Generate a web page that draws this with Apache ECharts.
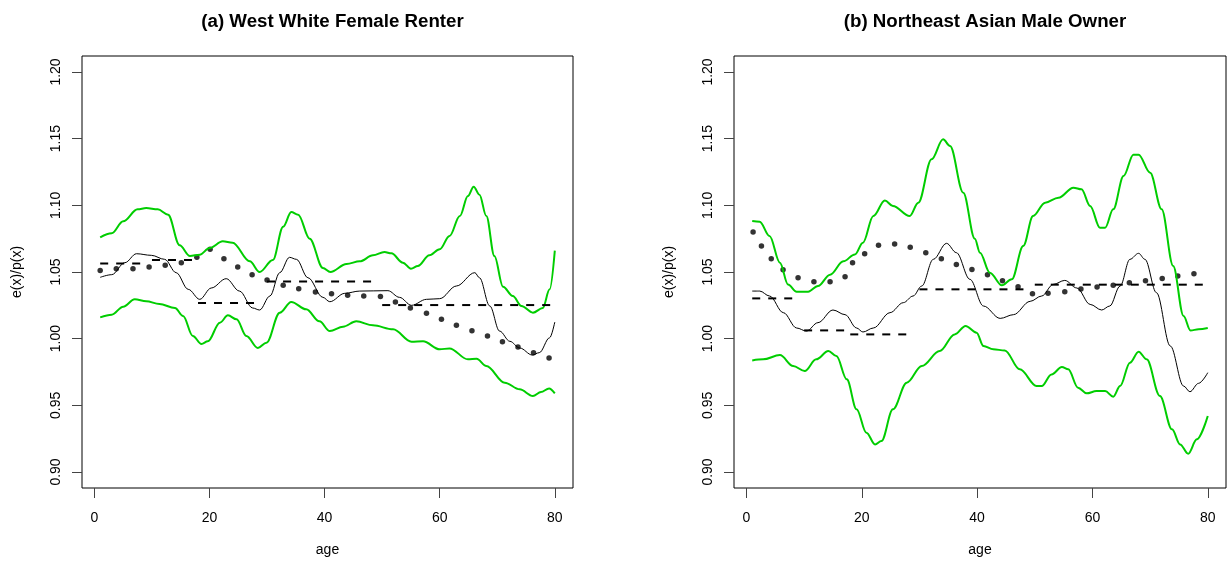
<!DOCTYPE html>
<html>
<head>
<meta charset="utf-8">
<title>e(x)/p(x) by age</title>
<script src="https://cdn.jsdelivr.net/npm/echarts@6/dist/echarts.min.js"></script>
<style>
  html, body { margin: 0; padding: 0; background: #fff; }
  #main { width: 1229px; height: 565px; }
</style>
</head>
<body>
<div id="main"></div>
<script>
// tick labels
const xTicks = [0, 20, 40, 60, 80]
const yTicks = [0.90, 0.95, 1.00, 1.05, 1.10, 1.15, 1.20]
const titles = ['(a) West White Female Renter', '(b) Northeast Asian Male Owner']

// age groups for the dashed step lines
const groupStart = [1, 10, 18, 30, 50]
const groupEnd = [9, 17, 29, 49, 80]

// ---- panel (a) ----
const upperA = [[1, 1.076], [3, 1.079], [5, 1.088], [7.5, 1.097], [9, 1.098], [11, 1.097], [12.8, 1.093], [14.8, 1.070],
  [16.6, 1.062], [18.3, 1.063], [20, 1.068], [22.3, 1.073], [24, 1.072], [27, 1.058], [28.7, 1.050], [31, 1.059],
  [32.8, 1.084], [34.2, 1.095], [35.4, 1.093], [37.4, 1.075], [39.7, 1.053], [41, 1.050], [43.8, 1.056], [46.1, 1.058],
  [48.4, 1.0625], [50.4, 1.065], [51.6, 1.064], [53.6, 1.057], [55, 1.0525], [56.2, 1.0545], [58.2, 1.0625], [60, 1.067],
  [61.7, 1.077], [63.5, 1.092], [64.9, 1.107], [65.9, 1.114], [66.9, 1.108], [68.1, 1.092], [69.5, 1.062], [71, 1.039],
  [72.7, 1.032], [74.2, 1.0245], [76.2, 1.0195], [77.9, 1.023], [79.1, 1.037], [80, 1.066]]
const lowerA = [[1, 1.016], [3, 1.018], [5, 1.024], [7, 1.0295], [9, 1.028], [11.3, 1.026], [14, 1.023], [15.4, 1.017],
  [17.1, 1.002], [18.6, 0.996], [19.7, 0.998], [21.8, 1.012], [23.2, 1.0175], [24.7, 1.0145], [26.4, 1.002], [28.4, 0.993],
  [29.9, 0.997], [32.2, 1.0195], [34.2, 1.0275], [36.8, 1.022], [39.1, 1.013], [40.9, 1.0057], [43.2, 1.009], [45.5, 1.013],
  [48.4, 1.010], [51.9, 1.007], [55.1, 0.9977], [57.1, 0.998], [60, 0.992], [61.7, 0.9927], [64.9, 0.9845], [66.4, 0.985],
  [68.1, 0.9795], [71.3, 0.967], [73.9, 0.962], [76.2, 0.957], [77.6, 0.960], [79, 0.9627], [80, 0.959]]
const fitA = [[1, 1.046], [3, 1.048], [5.3, 1.057], [7.3, 1.0637], [9.9, 1.0625], [12.2, 1.0595], [14.2, 1.0495], [16.3, 1.037],
  [18.3, 1.0295], [20.3, 1.038], [22.9, 1.045], [25.2, 1.0357], [27.5, 1.023], [28.7, 1.0215], [30.5, 1.032], [32.2, 1.0495],
  [33.9, 1.061], [35.1, 1.0595], [37.1, 1.0457], [39.7, 1.031], [40.9, 1.0277], [43.5, 1.034], [46.1, 1.0357], [51, 1.036],
  [53, 1.031], [55.1, 1.025], [57.7, 1.0295], [60, 1.030], [62.9, 1.0395], [66.1, 1.0495], [66.9, 1.0457], [68.7, 1.0245],
  [70.4, 1.0057], [72.2, 0.998], [73.9, 0.993], [76.1, 0.9877], [77.3, 0.9895], [79.1, 1.0007], [80, 1.0125]]
const dotAgeA = [1, 3.8, 6.7, 9.5, 12.3, 15.1, 17.8, 20.1, 22.5, 24.9, 27.4, 30, 32.8, 35.5, 38.4,
  41.2, 44, 46.8, 49.7, 52.3, 54.9, 57.7, 60.3, 62.9, 65.6, 68.3, 70.9, 73.6, 76.3, 79]
const dotValA = [1.0512, 1.0525, 1.0525, 1.0537, 1.055, 1.057, 1.061, 1.067, 1.060, 1.0537, 1.048, 1.044, 1.040, 1.0375, 1.035,
  1.0337, 1.0325, 1.032, 1.0317, 1.0275, 1.023, 1.019, 1.0145, 1.010, 1.006, 1.002, 0.9977, 0.9937, 0.9895, 0.9855]
const stepA = [1.0563, 1.059, 1.0267, 1.0428, 1.0252]

// ---- panel (b) ----
const upperB = [[1, 1.0882], [2.3, 1.0877], [4, 1.077], [5.8, 1.057], [7.2, 1.0407], [8.7, 1.0352], [10.7, 1.0352], [12.4, 1.0395],
  [14.5, 1.048], [16.8, 1.058], [18.8, 1.0632], [20.2, 1.072], [22, 1.092], [24, 1.1037], [25.4, 1.0995], [28.3, 1.092],
  [29.8, 1.102], [32.1, 1.1345], [34.1, 1.1495], [35.3, 1.1445], [37.6, 1.1095], [39.6, 1.075], [40.5, 1.0645], [42.2, 1.0495],
  [44.3, 1.040], [46, 1.0445], [48, 1.0695], [49.7, 1.092], [51.8, 1.102], [54.1, 1.1057], [56.7, 1.1132], [58.1, 1.112],
  [59.6, 1.0995], [61.3, 1.0832], [62.2, 1.0832], [63.6, 1.097], [65.4, 1.122], [67.1, 1.138], [68, 1.138], [70, 1.1245],
  [72, 1.097], [74, 1.0545], [75.8, 1.017], [77, 1.0062], [78.4, 1.007], [80, 1.008]]
const lowerB = [[1, 0.9837], [2.9, 0.9845], [5.8, 0.9877], [8.1, 0.9795], [10.1, 0.9757], [12.1, 0.9845], [14.2, 0.9907],
  [15.6, 0.987], [17.4, 0.9695], [19.1, 0.947], [20.8, 0.9295], [22.3, 0.9207], [23.4, 0.9232], [25.4, 0.947], [27.8, 0.967],
  [30.4, 0.9795], [33.5, 0.9907], [36.1, 1.0032], [38, 1.0095], [39.9, 1.0045], [41.1, 0.9945], [42.8, 0.992], [44.8, 0.9912],
  [47.4, 0.977], [50.3, 0.9645], [51.2, 0.9645], [52.9, 0.9732], [54.7, 0.9787], [55.8, 0.977], [57.5, 0.9632], [59, 0.959],
  [60.7, 0.9607], [62.2, 0.9607], [63.6, 0.9565], [64.8, 0.9645], [66.5, 0.982], [68, 0.9902], [69.4, 0.9845], [71.7, 0.957],
  [73.8, 0.932], [75.2, 0.9207], [76.6, 0.9137], [78.1, 0.9245], [80, 0.942]]
const fitB = [[1, 1.0357], [2.3, 1.0357], [4, 1.032], [6.4, 1.0195], [8.7, 1.008], [10.4, 1.0057], [12.4, 1.012], [15, 1.0215],
  [17.1, 1.018], [19.1, 1.008], [20.2, 1.005], [22, 1.008], [24.9, 1.0195], [27.2, 1.027], [28.9, 1.032], [30.4, 1.0395],
  [32.4, 1.0595], [34.7, 1.0715], [36.4, 1.0645], [38.75, 1.0445], [41.1, 1.0245], [44, 1.0152], [46.3, 1.018], [49.2, 1.028],
  [51.2, 1.032], [53.2, 1.0407], [55.2, 1.0437], [57.3, 1.038], [59.6, 1.0257], [61.6, 1.0215], [63, 1.0245], [64.8, 1.0395],
  [66.5, 1.0595], [68, 1.064], [69.1, 1.0595], [71.1, 1.0345], [73.5, 0.9945], [75.8, 0.9645], [76.9, 0.9602], [78.4, 0.9665],
  [80, 0.9745]]
const dotAgeB = [1.15, 2.6, 4.3, 6.35, 8.95, 11.7, 14.5, 17.1, 18.4, 20.5, 22.9, 25.7, 28.4, 31.1, 33.8, 36.4,
  39.1, 41.8, 44.4, 47.1, 49.6, 52.3, 55.2, 58, 60.8, 63.6, 66.4, 69.2, 72.1, 74.8, 77.6]
const dotValB = [1.080, 1.0695, 1.060, 1.0517, 1.0457, 1.0427, 1.0427, 1.0465, 1.057, 1.0637, 1.070, 1.071, 1.0685, 1.0645, 1.060, 1.0557,
  1.0518, 1.048, 1.0435, 1.039, 1.0337, 1.034, 1.0352, 1.0372, 1.0387, 1.040, 1.042, 1.0435, 1.0452, 1.047, 1.0487]
const stepB = [1.0302, 1.0062, 1.0032, 1.037, 1.0405]

const FONT = "'Liberation Sans', Arial, Helvetica, sans-serif"
const GREEN = '#00cd00'
const Y_MIN = 0.888
const Y_MAX = 1.212

const chart = echarts.init(document.getElementById('main'))

// plot box, axis range padded by 4% like R
const grids = [
  { left: 82, top: 56, width: 491, height: 432 },
  { left: 734, top: 56, width: 492, height: 432 }
]

function makeX (i) {
  return {
    type: 'value',
    gridIndex: i,
    position: 'bottom',
    min: -2.16,
    max: 83.16,
    name: 'age',
    nameLocation: 'middle',
    nameGap: 55,
    nameTextStyle: { fontFamily: FONT, fontSize: 14, color: '#000' },
    axisLine: { show: false },
    splitLine: { show: false },
    axisTick: { show: true, inside: false, length: 10, customValues: xTicks, lineStyle: { color: '#444' } },
    axisLabel: { customValues: xTicks, margin: 23, fontFamily: FONT, fontSize: 14, color: '#000' }
  }
}

// y scale used by the series (drawn by the overlay axis below)
function dataY (i) {
  return { type: 'value', gridIndex: i, min: Y_MIN, max: Y_MAX, show: false }
}

// overlay grid: x range away from zero so the y axis sits on the box edge
function dummyX (i) {
  return { type: 'value', gridIndex: i, min: 1, max: 2, show: false }
}

function makeY (i) {
  return {
    type: 'value',
    gridIndex: i,
    position: 'left',
    min: Y_MIN,
    max: Y_MAX,
    name: 'e(x)/p(x)',
    nameLocation: 'middle',
    nameGap: 58,
    nameRotate: 90,
    nameTextStyle: { fontFamily: FONT, fontSize: 14, color: '#000' },
    axisLine: { show: false },
    splitLine: { show: false },
    axisTick: { show: true, length: 10, customValues: yTicks, lineStyle: { color: '#444', width: 1 } },
    axisLabel: {
      customValues: yTicks,
      rotate: 90,
      margin: 19,
      fontFamily: FONT,
      fontSize: 14,
      color: '#000',
      formatter: v => v.toFixed(2)
    }
  }
}

function lineSeries (i, data, color, width) {
  return {
    type: 'line',
    xAxisIndex: i,
    yAxisIndex: i,
    data: data,
    smooth: 0.35,
    smoothMonotone: 'x',
    symbol: 'none',
    silent: true,
    lineStyle: { color: color, width: width }
  }
}

function panelSeries (i, upper, lower, fit, dotAge, dotVal, step) {
  const s = [
    lineSeries(i, upper, GREEN, 2),
    lineSeries(i, lower, GREEN, 2),
    lineSeries(i, fit, '#000', 1),
    {
      type: 'scatter',
      xAxisIndex: i,
      yAxisIndex: i,
      data: dotAge.map((a, k) => [a, dotVal[k]]),
      symbol: 'circle',
      symbolSize: 5.5,
      silent: true,
      itemStyle: { color: '#000' }
    }
  ]
  // dashed step per age group
  for (let k = 0; k < step.length; k++) {
    s.push({
      type: 'line',
      xAxisIndex: i,
      yAxisIndex: i,
      data: [[groupStart[k], step[k]], [groupEnd[k], step[k]]],
      symbol: 'none',
      silent: true,
      lineStyle: { color: '#000', width: 2, type: [8, 8] }
    })
  }
  return s
}

const option = {
  animation: false,
  backgroundColor: '#fff',
  title: titles.map((t, i) => ({
    text: t,
    left: grids[i].left + grids[i].width / 2,
    top: 7,
    textAlign: 'center',
    textStyle: { fontFamily: FONT, fontSize: 18.7, fontWeight: 'bold', color: '#000' }
  })),
  grid: [
    ...grids.map(g => Object.assign({ show: true, borderColor: '#000', borderWidth: 1, backgroundColor: 'transparent' }, g)),
    ...grids.map(g => Object.assign({ show: false }, g))
  ],
  xAxis: [makeX(0), makeX(1), dummyX(2), dummyX(3)],
  yAxis: [dataY(0), dataY(1), makeY(2), makeY(3)],
  series: [
    ...panelSeries(0, upperA, lowerA, fitA, dotAgeA, dotValA, stepA),
    ...panelSeries(1, upperB, lowerB, fitB, dotAgeB, dotValB, stepB)
  ]
}

chart.setOption(option)
</script>
</body>
</html>
